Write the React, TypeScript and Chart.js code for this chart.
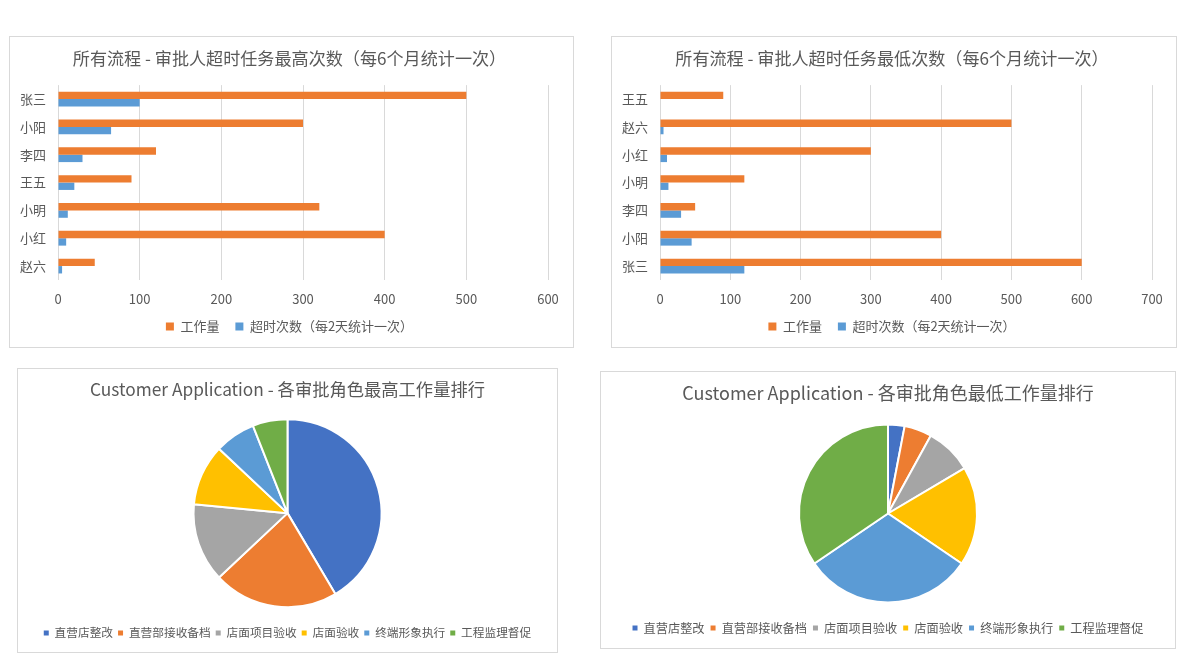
import React, { useEffect, useRef } from 'react';
import { Chart, registerables } from 'chart.js';

Chart.register(...registerables);

const FONT = "'Noto Sans CJK SC', 'Microsoft YaHei', sans-serif";
const TEXT = '#595959';
const GRID = '#d9d9d9';
const ORANGE = '#ED7D31';
const BLUE = '#5B9BD5';

// ---- Data ----
const seriesNames = ['工作量', '超时次数（每2天统计一次）'];

const highTitle = '所有流程 - 审批人超时任务最高次数（每6个月统计一次）';
const highNames = ['张三', '小阳', '李四', '王五', '小明', '小红', '赵六'];
const highWorkload = [500, 300, 120, 90, 320, 400, 45];
const highOvertime = [100, 65, 30, 20, 12, 10, 5];
const highMax = 600;

const lowTitle = '所有流程 - 审批人超时任务最低次数（每6个月统计一次）';
const lowNames = ['王五', '赵六', '小红', '小明', '李四', '小阳', '张三'];
const lowWorkload = [90, 500, 300, 120, 50, 400, 600];
const lowOvertime = [0, 5, 10, 12, 30, 45, 120];
const lowMax = 700;

const tickStep = 100;

const roles = ['直营店整改', '直营部接收备档', '店面项目验收', '店面验收', '终端形象执行', '工程监理督促'];
const roleColors = ['#4472C4', '#ED7D31', '#A5A5A5', '#FFC000', '#5B9BD5', '#70AD47'];
const pieHighTitle = 'Customer Application - 各审批角色最高工作量排行';
const pieHighValues = [41.5, 21.5, 13.5, 10.5, 7, 6];
const pieLowTitle = 'Customer Application - 各审批角色最低工作量排行';
const pieLowValues = [3, 5, 8.5, 18, 31, 34.5];

Chart.defaults.font.family = FONT;

function barConfig(title: string, names: string[], work: number[], over: number[], max: number, rightSpace: number): any {
  return {
    type: 'bar',
    data: {
      labels: names,
      datasets: [
        { label: seriesNames[0], data: work, backgroundColor: ORANGE, categoryPercentage: 0.53, barPercentage: 1 },
        { label: seriesNames[1], data: over, backgroundColor: BLUE, categoryPercentage: 0.53, barPercentage: 1 },
      ],
    },
    options: {
      indexAxis: 'y',
      responsive: false,
      animation: false,
      layout: { padding: { left: 0, right: 4, top: 0, bottom: 4 } },
      plugins: {
        title: {
          display: true,
          text: title,
          color: TEXT,
          font: { size: 17.1, weight: 'normal', family: FONT },
          padding: { top: 11, bottom: 16.6 },
        },
        legend: {
          position: 'bottom',
          labels: { color: TEXT, font: { size: 13, family: FONT }, boxWidth: 8, boxHeight: 8, padding: 16 },
        },
        tooltip: { enabled: false },
      },
      scales: {
        x: {
          min: 0,
          max,
          ticks: { stepSize: tickStep, color: TEXT, font: { size: 13, family: FONT }, padding: 11 },
          grid: { color: GRID, drawTicks: false },
          border: { display: false },
          afterFit: (s: any) => { s.height = 24; },
        },
        y: {
          ticks: { color: TEXT, font: { size: 13, family: FONT }, padding: 12 },
          grid: { display: false, drawTicks: false },
          border: { display: false },
          afterFit: (s: any) => { s.width = 48; },
        },
        spacer: {
          type: 'linear',
          position: 'right',
          display: true,
          ticks: { display: false },
          grid: { display: false, drawTicks: false },
          border: { display: false },
          afterFit: (s: any) => { s.width = rightSpace; },
        },
      },
    },
  };
}

function pieConfig(
  title: string,
  values: number[],
  o: { titleSize: number; padTop: number; padBottom: number; legendSize: number; legendPad: number; bottom: number; radius: number }
): any {
  return {
    type: 'pie',
    data: {
      labels: roles,
      datasets: [
        { data: values, backgroundColor: roleColors, borderColor: '#ffffff', borderWidth: 2, radius: o.radius },
      ],
    },
    options: {
      responsive: false,
      animation: false,
      layout: { padding: { left: 0, right: 0, top: 0, bottom: o.bottom } },
      plugins: {
        title: {
          display: true,
          text: title,
          color: TEXT,
          font: { size: o.titleSize, weight: 'normal', family: FONT },
          padding: { top: o.padTop, bottom: o.padBottom },
        },
        legend: {
          position: 'bottom',
          labels: {
            color: TEXT,
            font: { size: o.legendSize, family: FONT },
            boxWidth: 5,
            boxHeight: 5,
            padding: o.legendPad,
            generateLabels: () =>
              roles.map((r, i) => ({
                text: r,
                fillStyle: roleColors[i],
                strokeStyle: roleColors[i],
                lineWidth: 0,
                fontColor: TEXT,
                hidden: false,
                index: i,
              })),
          },
        },
        tooltip: { enabled: false },
      },
    },
  };
}

function Panel(props: { left: number; top: number; width: number; height: number; make: () => any }) {
  const ref = useRef<HTMLCanvasElement>(null);
  useEffect(() => {
    const chart = new Chart(ref.current as HTMLCanvasElement, props.make());
    return () => chart.destroy();
  }, []);
  return (
    <div
      style={{
        position: 'absolute',
        left: props.left,
        top: props.top,
        width: props.width,
        height: props.height,
        border: `1px solid ${GRID}`,
        boxSizing: 'border-box',
        background: '#fff',
      }}
    >
      <canvas ref={ref} width={props.width - 2} height={props.height - 2} style={{ display: 'block' }} />
    </div>
  );
}

export default function App() {
  return (
    <div style={{ position: 'absolute', left: 0, top: 0, width: 1200, height: 654, background: '#fff', overflow: 'hidden' }}>
      <Panel left={9} top={36} width={565} height={312} make={() => barConfig(highTitle, highNames, highWorkload, highOvertime, highMax, 21)} />
      <Panel left={611} top={36} width={566} height={312} make={() => barConfig(lowTitle, lowNames, lowWorkload, lowOvertime, lowMax, 20)} />
      <Panel
        left={17}
        top={368}
        width={541}
        height={285}
        make={() =>
          pieConfig(pieHighTitle, pieHighValues, {
            titleSize: 17.3,
            padTop: 10,
            padBottom: 4.4,
            legendSize: 11.7,
            legendPad: 5,
            bottom: 3.2,
            radius: 94,
          })
        }
      />
      <Panel
        left={600}
        top={371}
        width={576}
        height={278}
        make={() =>
          pieConfig(pieLowTitle, pieLowValues, {
            titleSize: 18,
            padTop: 10.2,
            padBottom: 7.3,
            legendSize: 12.2,
            legendPad: 6,
            bottom: 3.9,
            radius: 89,
          })
        }
      />
    </div>
  );
}
